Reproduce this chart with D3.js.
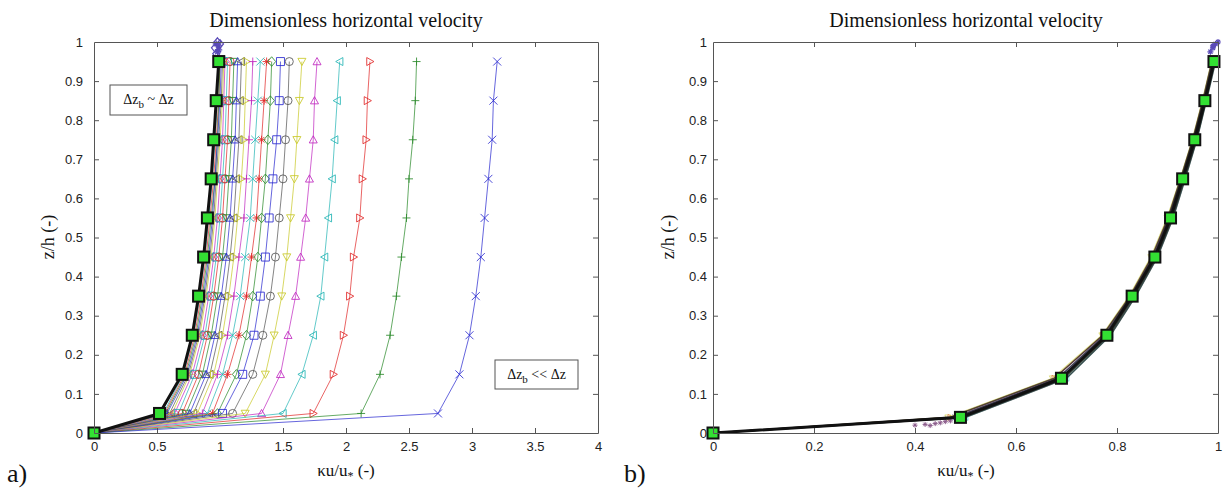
<!DOCTYPE html>
<html>
<head>
<meta charset="utf-8">
<script src="https://cdn.jsdelivr.net/npm/d3@7"></script>
<style>
  body { margin: 0; background: #fff; }
  svg { display: block; }
  .tick text { font-family: "Liberation Sans", Arial, sans-serif; font-size: 13px; fill: #222; }
  .tick line, .domain { stroke: #555; }
  .serif { font-family: "Liberation Serif", "Times New Roman", serif; fill: #111; }
</style>
</head>
<body>
<svg id="chart" width="1224" height="492"></svg>
<script>
// z levels of the profiles (z/h)
const zLevels = [0, 0.05, 0.15, 0.25, 0.35, 0.45, 0.55, 0.65, 0.75, 0.85, 0.95];

// panel a) : ku/u* profiles, from the fastest (coarsest) to the converged one
const profilesA = [
  [0, 2.73, 2.90, 2.98, 3.03, 3.07, 3.10, 3.13, 3.16, 3.17, 3.20],
  [0, 2.12, 2.27, 2.35, 2.40, 2.44, 2.48, 2.50, 2.53, 2.55, 2.56],
  [0, 1.74, 1.90, 1.98, 2.03, 2.06, 2.11, 2.13, 2.16, 2.17, 2.19],
  [0, 1.50, 1.65, 1.74, 1.80, 1.83, 1.86, 1.89, 1.91, 1.93, 1.95],
  [0, 1.33, 1.48, 1.54, 1.60, 1.64, 1.68, 1.71, 1.74, 1.75, 1.77],
  [0, 1.20, 1.36, 1.43, 1.49, 1.53, 1.56, 1.59, 1.61, 1.63, 1.65],
  [0, 1.10, 1.26, 1.34, 1.40, 1.44, 1.47, 1.50, 1.52, 1.54, 1.55],
  [0, 1.02, 1.18, 1.27, 1.32, 1.36, 1.39, 1.42, 1.45, 1.47, 1.48],
  [0, 0.98, 1.13, 1.21, 1.26, 1.30, 1.33, 1.36, 1.38, 1.40, 1.41],
  [0, 0.94, 1.06, 1.15, 1.21, 1.25, 1.29, 1.31, 1.33, 1.35, 1.37],
  [0, 0.90, 1.02, 1.10, 1.16, 1.20, 1.24, 1.26, 1.28, 1.30, 1.32],
  [0, 0.86, 0.98, 1.06, 1.11, 1.15, 1.19, 1.21, 1.23, 1.25, 1.26],
  [0, 0.82, 0.95, 1.02, 1.07, 1.11, 1.14, 1.17, 1.19, 1.20, 1.21],
  [0, 0.79, 0.92, 0.99, 1.04, 1.08, 1.11, 1.13, 1.15, 1.16, 1.17],
  [0, 0.76, 0.89, 0.96, 1.01, 1.05, 1.08, 1.10, 1.12, 1.13, 1.14],
  [0, 0.73, 0.86, 0.93, 0.98, 1.02, 1.05, 1.07, 1.09, 1.10, 1.11],
  [0, 0.70, 0.83, 0.90, 0.95, 0.99, 1.02, 1.04, 1.06, 1.07, 1.08],
  [0, 0.67, 0.80, 0.88, 0.93, 0.97, 1.00, 1.02, 1.04, 1.05, 1.06],
  [0, 0.64, 0.78, 0.86, 0.91, 0.95, 0.98, 1.00, 1.02, 1.03, 1.04],
  [0, 0.62, 0.76, 0.84, 0.89, 0.93, 0.96, 0.98, 1.00, 1.02, 1.03],
  [0, 0.60, 0.75, 0.83, 0.88, 0.92, 0.95, 0.97, 0.99, 1.01, 1.02],
  [0, 0.58, 0.74, 0.82, 0.87, 0.91, 0.94, 0.96, 0.98, 1.00, 1.01],
  [0, 0.57, 0.73, 0.81, 0.86, 0.90, 0.93, 0.96, 0.98, 0.99, 1.00],
  [0, 0.56, 0.72, 0.80, 0.85, 0.89, 0.92, 0.95, 0.97, 0.99, 1.00],
  [0, 0.55, 0.71, 0.79, 0.84, 0.88, 0.91, 0.94, 0.96, 0.98, 0.995]
];
const convergedA = [0, 0.52, 0.70, 0.78, 0.83, 0.87, 0.90, 0.93, 0.95, 0.97, 0.99];
const topClusterX = [0.96, 0.97, 0.98, 0.99, 1.0, 0.98, 0.97, 0.99];
const topClusterZ = [0.985, 0.995, 1.0, 0.99, 0.995, 0.975, 0.97, 0.98];

// panel b) : normalised profiles
const zLevelsB = [0, 0.04, 0.14, 0.25, 0.35, 0.45, 0.55, 0.65, 0.75, 0.85, 0.95];
const profilesB = [
  [0, 0.480, 0.683, 0.776, 0.828, 0.872, 0.903, 0.928, 0.951, 0.972, 0.990],
  [0, 0.495, 0.695, 0.784, 0.834, 0.878, 0.909, 0.933, 0.957, 0.976, 0.993],
  [0, 0.470, 0.676, 0.772, 0.826, 0.869, 0.901, 0.926, 0.950, 0.970, 0.988],
  [0, 0.500, 0.700, 0.787, 0.837, 0.880, 0.911, 0.935, 0.958, 0.977, 0.995],
  [0, 0.485, 0.688, 0.779, 0.831, 0.874, 0.905, 0.930, 0.953, 0.973, 0.991],
  [0, 0.465, 0.672, 0.770, 0.824, 0.867, 0.899, 0.925, 0.949, 0.969, 0.987],
  [0, 0.490, 0.692, 0.782, 0.833, 0.877, 0.908, 0.932, 0.956, 0.975, 0.992]
];
const convergedB = [0, 0.49, 0.69, 0.78, 0.83, 0.875, 0.906, 0.93, 0.954, 0.974, 0.992];
const lowPointsX = [0.40, 0.42, 0.44, 0.45, 0.46, 0.43, 0.47];
const lowPointsZ = [0.020, 0.022, 0.024, 0.026, 0.029, 0.019, 0.031];
const topClusterBX = [0.985, 0.99, 0.995, 1.0, 0.99];
const topClusterBZ = [0.975, 0.985, 0.995, 1.0, 0.99];

// tick labels
const xTicksA = [0, 0.5, 1, 1.5, 2, 2.5, 3, 3.5, 4];
const xTicksB = [0, 0.2, 0.4, 0.6, 0.8, 1];
const zTicks = [0, 0.1, 0.2, 0.3, 0.4, 0.5, 0.6, 0.7, 0.8, 0.9, 1];

const lineColors = ['#2a2ad0', '#2a8a2a', '#e02828', '#25b5b5', '#c028c0', '#c8c828', '#555555'];
const markerTypes = ['x', '+', '>', '<', '^', 'v', 'o', 's', 'd', '*'];

const svg = d3.select('#chart');
const fmt = d3.format('~g');

function markerPath(type, r) {
  switch (type) {
    case 'x': return `M${-r},${-r}L${r},${r}M${-r},${r}L${r},${-r}`;
    case '+': return `M${-r},0L${r},0M0,${-r}L0,${r}`;
    case '*': {
      const q = r * 0.7;
      return `M${-r},0L${r},0M0,${-r}L0,${r}M${-q},${-q}L${q},${q}M${-q},${q}L${q},${-q}`;
    }
    case 's': return `M${-r},${-r}H${r}V${r}H${-r}Z`;
    case 'd': return `M0,${-r * 1.2}L${r},0L0,${r * 1.2}L${-r},0Z`;
    case '^': return `M0,${-r}L${r},${r * 0.8}L${-r},${r * 0.8}Z`;
    case 'v': return `M0,${r}L${r},${-r * 0.8}L${-r},${-r * 0.8}Z`;
    case '>': return `M${r},0L${-r * 0.8},${-r}L${-r * 0.8},${r}Z`;
    case '<': return `M${-r},0L${r * 0.8},${-r}L${r * 0.8},${r}Z`;
    default: return `M${r},0A${r},${r} 0 1,1 ${-r},0A${r},${r} 0 1,1 ${r},0Z`;
  }
}

function drawFrame(g, x, y, xTicks, yPad) {
  const [x0, x1] = x.range();
  const [y0, y1] = y.range();
  g.append('g').attr('transform', `translate(0,${y0})`)
    .call(d3.axisBottom(x).tickValues(xTicks).tickFormat(fmt).tickSize(-5).tickSizeOuter(0).tickPadding(9));
  g.append('g').attr('transform', `translate(0,${y1})`)
    .call(d3.axisTop(x).tickValues(xTicks).tickFormat('').tickSize(-5).tickSizeOuter(0));
  g.append('g').attr('transform', `translate(${x0},0)`)
    .call(d3.axisLeft(y).tickValues(zTicks).tickFormat(fmt).tickSize(-5).tickSizeOuter(0).tickPadding(yPad));
  g.append('g').attr('transform', `translate(${x1},0)`)
    .call(d3.axisRight(y).tickValues(zTicks).tickFormat('').tickSize(-5).tickSizeOuter(0));
  // no ticks on the box corners
  g.selectAll('.tick line').filter(function () {
    const t = d3.select(this.parentNode).datum();
    return t === 0 || t === xTicks[xTicks.length - 1] || t === 1;
  }).remove();
}

function drawProfile(g, x, y, zs, values, color, type, r, width, opacity) {
  const pts = values.map((v, i) => [x(v), y(zs[i])]);
  g.append('path')
    .attr('d', d3.line()(pts))
    .attr('fill', 'none')
    .attr('stroke', color)
    .attr('stroke-width', width)
    .attr('stroke-linejoin', 'round')
    .attr('opacity', opacity);
  if (!r) return;
  g.append('g').selectAll('path').data(pts.slice(1)).join('path')
    .attr('transform', d => `translate(${d[0]},${d[1]})`)
    .attr('d', markerPath(type, r))
    .attr('fill', 'none')
    .attr('stroke', color)
    .attr('stroke-width', 1)
    .attr('opacity', opacity);
}

function drawSquares(g, x, y, zs, values) {
  g.append('g').selectAll('rect').data(values).join('rect')
    .attr('x', d => x(d) - 5.5)
    .attr('y', (d, i) => y(zs[i]) - 5.5)
    .attr('width', 11).attr('height', 11)
    .attr('fill', '#33e033')
    .attr('stroke', '#111')
    .attr('stroke-width', 2);
}

function labels(cx, yLabelX, tag, tagX) {
  svg.append('text').attr('class', 'serif')
    .attr('x', cx).attr('y', 27).attr('text-anchor', 'middle')
    .attr('font-size', 20).text('Dimensionless horizontal velocity');
  const xl = svg.append('text').attr('class', 'serif')
    .attr('x', cx).attr('y', 476).attr('text-anchor', 'middle').attr('font-size', 17);
  xl.append('tspan').text('\u03bau/u');
  xl.append('tspan').attr('dy', 4).attr('font-size', 12).text('*');
  xl.append('tspan').attr('dy', -4).text(' (-)');
  svg.append('text').attr('class', 'serif')
    .attr('transform', `translate(${yLabelX},237) rotate(-90)`)
    .attr('text-anchor', 'middle').attr('font-size', 18).text('z/h (-)');
  svg.append('text').attr('class', 'serif')
    .attr('x', tagX).attr('y', 482).attr('font-size', 26).text(tag);
}

function noteBox(g, x, y, w, h, rel) {
  g.append('rect').attr('x', x).attr('y', y).attr('width', w).attr('height', h)
    .attr('fill', '#fff').attr('stroke', '#555');
  const t = g.append('text').attr('class', 'serif')
    .attr('x', x + w / 2).attr('y', y + h / 2 + 4).attr('text-anchor', 'middle').attr('font-size', 14);
  t.append('tspan').text('\u0394z');
  t.append('tspan').attr('dy', 4).attr('font-size', 11).text('b');
  t.append('tspan').attr('dy', -4).text(` ${rel} \u0394z`);
}

// ---------- panel a ----------
const xA = d3.scaleLinear().domain([0, 4]).range([94, 598]);
const yA = d3.scaleLinear().domain([0, 1]).range([433, 42]);
const gA = svg.append('g');

profilesA.slice().reverse().forEach((p, k) => {
  const i = profilesA.length - 1 - k;
  drawProfile(gA, xA, yA, zLevels, p, lineColors[i % 7], markerTypes[i % 10], 4, 0.85, 0.85);
});
gA.append('g').selectAll('path').data(topClusterX).join('path')
  .attr('transform', (d, i) => `translate(${xA(d)},${yA(topClusterZ[i])})`)
  .attr('d', (d, i) => markerPath(i % 2 ? '*' : 'd', 3.5))
  .attr('fill', 'none').attr('stroke', '#5a4ab8').attr('stroke-width', 1.2);
drawProfile(gA, xA, yA, zLevels, convergedA, '#111', 'o', 0, 3, 1);
drawSquares(gA, xA, yA, zLevels, convergedA);
drawFrame(gA, xA, yA, xTicksA, 11);
noteBox(gA, 110, 85, 77, 30, '~');
noteBox(gA, 495, 360, 83, 29, '<<');
labels(346, 54, 'a)', 7);

// ---------- panel b ----------
const xB = d3.scaleLinear().domain([0, 1]).range([713, 1218]);
const yB = d3.scaleLinear().domain([0, 1]).range([433, 42]);
const gB = svg.append('g');

profilesB.forEach((p, i) => {
  drawProfile(gB, xB, yB, zLevelsB, p, lineColors[i % 7], markerTypes[i % 10], 3, 1.2, 0.55);
});
gB.append('g').selectAll('path').data(lowPointsX).join('path')
  .attr('transform', (d, i) => `translate(${xB(d)},${yB(lowPointsZ[i])})`)
  .attr('d', markerPath('*', 2.5))
  .attr('fill', 'none').attr('stroke', '#8a5a8a').attr('stroke-width', 1);
gB.append('g').selectAll('path').data(topClusterBX).join('path')
  .attr('transform', (d, i) => `translate(${xB(d)},${yB(topClusterBZ[i])})`)
  .attr('d', markerPath('*', 3))
  .attr('fill', 'none').attr('stroke', '#5a4ab8').attr('stroke-width', 1.2);
profilesB.slice(0, 4).forEach(p => {
  drawProfile(gB, xB, yB, zLevelsB, p, '#222', 'o', 0, 1.6, 0.75);
});
drawProfile(gB, xB, yB, zLevelsB, convergedB, '#111', 'o', 0, 3, 1);
drawSquares(gB, xB, yB, zLevelsB, convergedB);
drawFrame(gB, xB, yB, xTicksB, 6);
labels(966, 674, 'b)', 624);
</script>
</body>
</html>
